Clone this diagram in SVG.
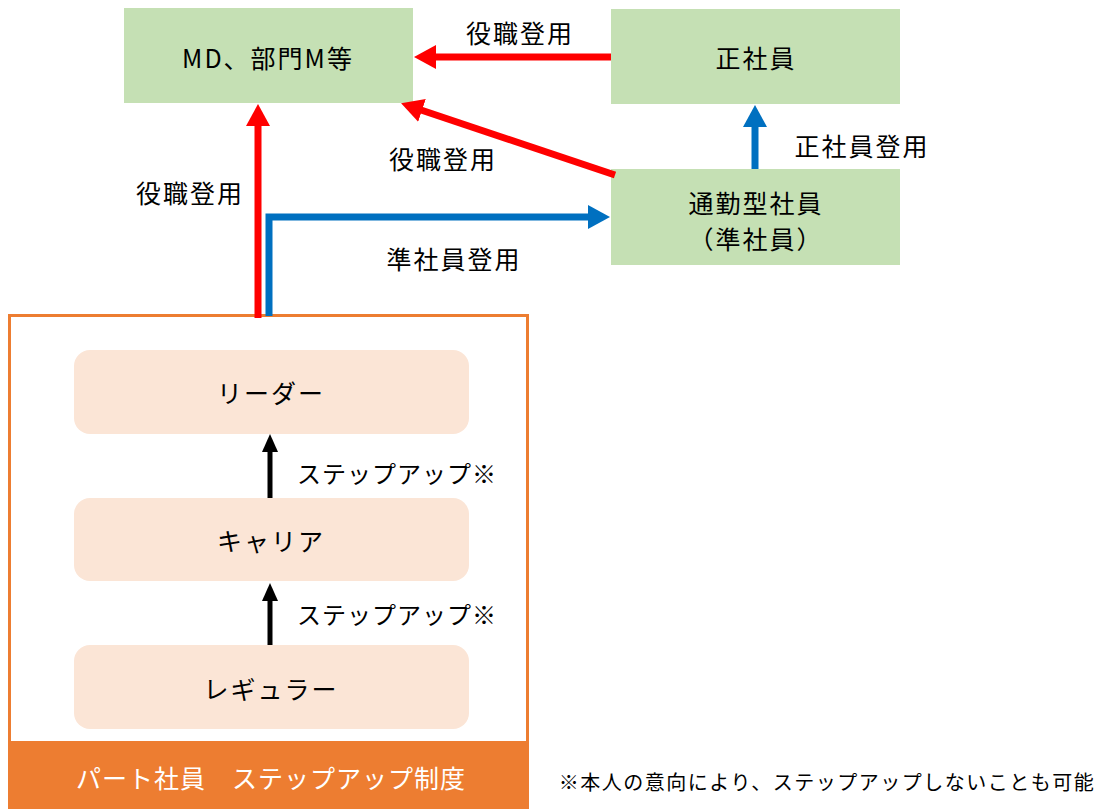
<svg xmlns="http://www.w3.org/2000/svg" width="1102" height="809" viewBox="0 0 1102 809">
<style>
.t{font-family:"Noto Sans CJK JP","Noto Sans",sans-serif;font-size:25px;fill:#000;text-anchor:middle;dominant-baseline:central;letter-spacing:2px}
.s{font-size:24px;letter-spacing:1px}
.green{fill:#C5E0B4}
.peach{fill:#FBE5D6}
</style>
<defs>
<marker id="mr" markerUnits="userSpaceOnUse" markerWidth="24" markerHeight="26" viewBox="0 -13 24 26" refX="1" refY="0" orient="auto"><path d="M0,-12 L22,0 L0,12 z" fill="#FF0000"/></marker>
<marker id="mb" markerUnits="userSpaceOnUse" markerWidth="24" markerHeight="26" viewBox="0 -13 24 26" refX="1" refY="0" orient="auto"><path d="M0,-12 L22,0 L0,12 z" fill="#0070C0"/></marker>
<marker id="mk" markerUnits="userSpaceOnUse" markerWidth="20" markerHeight="18" viewBox="0 -9 20 18" refX="1" refY="0" orient="auto"><path d="M0,-8 L18,0 L0,8 z" fill="#000"/></marker>
</defs>

<g id="part-frame">
<rect x="9.5" y="315.5" width="518" height="430" fill="#fff" stroke="#ED7D31" stroke-width="3"/>
<rect x="8" y="741" width="521" height="68" fill="#ED7D31"/>
<text class="t" x="271" y="777" style="fill:#fff;letter-spacing:1px">パート社員　ステップアップ制度</text>
</g>

<g id="node-md"><rect class="green" x="124" y="8" width="289" height="95"/><text class="t" x="268" y="57">MD、部門M等</text></g>
<g id="node-seishain"><rect class="green" x="611" y="9" width="289" height="95"/><text class="t" x="756" y="57">正社員</text></g>
<g id="node-tsukin"><rect class="green" x="611" y="169" width="289" height="96"/><text class="t" x="756" y="202">通勤型社員</text><text class="t" x="756" y="238">（準社員）</text></g>

<g id="node-leader"><rect class="peach" x="74" y="350" width="395" height="84" rx="16"/><text class="t" x="271" y="392">リーダー</text></g>
<g id="node-career"><rect class="peach" x="74" y="498" width="395" height="83" rx="16"/><text class="t" x="271" y="540">キャリア</text></g>
<g id="node-regular"><rect class="peach" x="74" y="645" width="395" height="84" rx="16"/><text class="t" x="271" y="688">レギュラー</text></g>

<g id="connectors" fill="none">
<path d="M611,57 L435,57" stroke="#FF0000" stroke-width="7" marker-end="url(#mr)"/>
<path d="M258,318 L258,125" stroke="#FF0000" stroke-width="7" marker-end="url(#mr)"/>
<path d="M615,175 L421,110" stroke="#FF0000" stroke-width="7" marker-end="url(#mr)"/>
<path d="M269,316 L269,217 L589,217" stroke="#0070C0" stroke-width="7" marker-end="url(#mb)"/>
<path d="M755,169 L755,126" stroke="#0070C0" stroke-width="7" marker-end="url(#mb)"/>
<path d="M270,498 L270,451" stroke="#000" stroke-width="5" marker-end="url(#mk)"/>
<path d="M270,645 L270,600" stroke="#000" stroke-width="5" marker-end="url(#mk)"/>
</g>

<g id="labels">
<text class="t" x="520" y="32">役職登用</text>
<text class="t" x="443" y="158">役職登用</text>
<text class="t" x="190" y="192">役職登用</text>
<text class="t" x="454" y="258">準社員登用</text>
<text class="t" x="862" y="145">正社員登用</text>
<text class="t s" x="397" y="472">ステップアップ※</text>
<text class="t s" x="397" y="613">ステップアップ※</text>
<text class="t" x="827" y="781" style="font-size:20px;letter-spacing:1.5px">※本人の意向により、ステップアップしないことも可能</text>
</g>
</svg>
